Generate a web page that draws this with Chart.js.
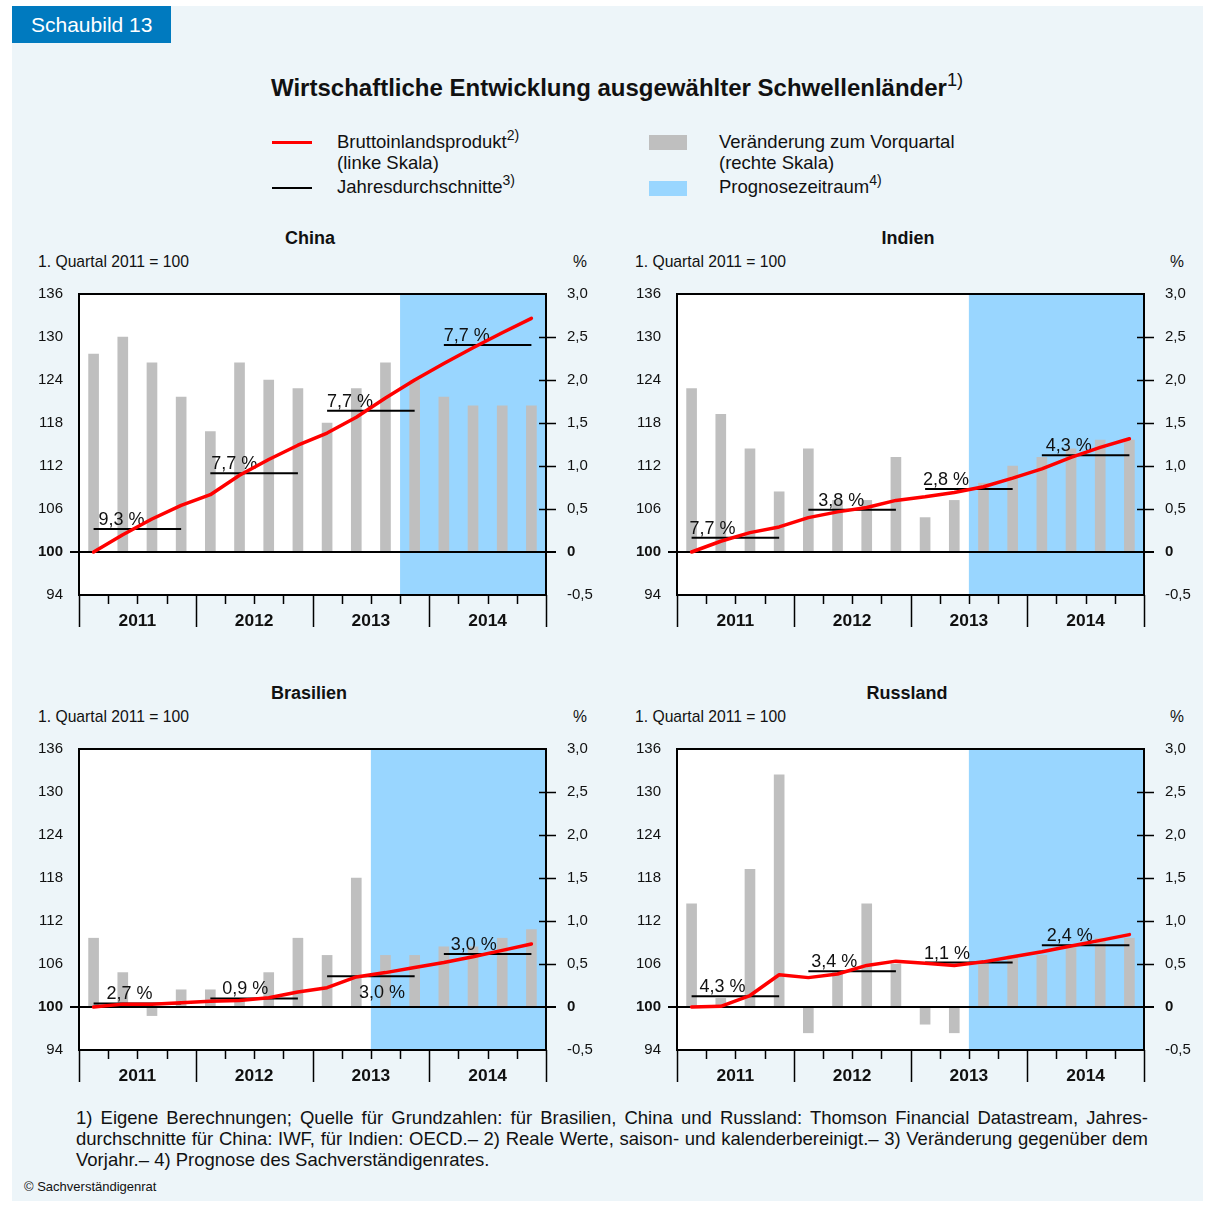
<!DOCTYPE html>
<html lang="de">
<head>
<meta charset="utf-8">
<title>Schaubild 13</title>
<script src="https://cdn.jsdelivr.net/npm/chart.js@4.4.1/dist/chart.umd.min.js"></script>
<style>
  html, body { margin: 0; padding: 0; background: #fff; }
  body { position: relative; width: 1215px; height: 1205px; overflow: hidden;
         font-family: "Liberation Sans", Arial, sans-serif; color: #111; }
  .abs { position: absolute; white-space: nowrap; }
  #bg { left: 12px; top: 6px; width: 1191px; height: 1195px; background: #EDF5F9; }
  #tab { left: 12px; top: 6px; width: 159px; height: 37px; background: #007ABF; color: #fff;
         font-size: 21px; line-height: 37px; padding-left: 19px; box-sizing: border-box; }
  #title { left: 271px; top: 74px; font-size: 24px; font-weight: bold; line-height: 28px; }
  sup { font-size: 76%; vertical-align: baseline; position: relative; top: -0.55em; font-weight: normal; }
  .leg { font-size: 18.5px; line-height: 20px; }
  .sw { position: absolute; }
  .ptitle { font-size: 18px; font-weight: bold; width: 300px; text-align: center; line-height: 20px; }
  .unit { font-size: 15.7px; line-height: 18px; }
  canvas { position: absolute; }
  #notes { left: 76px; top: 1107px; width: 1072px; font-size: 18.5px; line-height: 21px; white-space: normal; }
  #notes div { text-align: justify; text-align-last: justify; }
  #notes div.last { text-align-last: left; }
  #copy { left: 24px; top: 1179px; font-size: 13px; line-height: 16px; }
</style>
</head>
<body>
<div id="bg" class="abs"></div>
<div id="tab" class="abs">Schaubild 13</div>
<div id="title" class="abs">Wirtschaftliche Entwicklung ausgewählter Schwellenländer<sup>1)</sup></div>

<!-- legend -->
<div class="sw" style="left:272px;top:141px;width:40px;height:3px;background:#FF0000"></div>
<div class="abs leg" style="left:337px;top:132px">Bruttoinlandsprodukt<sup>2)</sup></div>
<div class="abs leg" style="left:337px;top:153px">(linke Skala)</div>
<div class="sw" style="left:272px;top:187px;width:40px;height:2px;background:#000"></div>
<div class="abs leg" style="left:337px;top:177px">Jahresdurchschnitte<sup>3)</sup></div>
<div class="sw" style="left:649px;top:135px;width:38px;height:15px;background:#BFBFBF"></div>
<div class="abs leg" style="left:719px;top:132px">Veränderung zum Vorquartal</div>
<div class="abs leg" style="left:719px;top:153px">(rechte Skala)</div>
<div class="sw" style="left:649px;top:181px;width:38px;height:15px;background:#99D6FF"></div>
<div class="abs leg" style="left:719px;top:177px">Prognosezeitraum<sup>4)</sup></div>

<!-- panel headings -->
<div class="abs ptitle" style="left:160px;top:228px">China</div>
<div class="abs unit" style="left:38px;top:253px">1. Quartal 2011 = 100</div>
<div class="abs unit" style="left:573px;top:253px">%</div>
<div class="abs ptitle" style="left:758px;top:228px">Indien</div>
<div class="abs unit" style="left:635px;top:253px">1. Quartal 2011 = 100</div>
<div class="abs unit" style="left:1170px;top:253px">%</div>
<div class="abs ptitle" style="left:159px;top:683px">Brasilien</div>
<div class="abs unit" style="left:38px;top:708px">1. Quartal 2011 = 100</div>
<div class="abs unit" style="left:573px;top:708px">%</div>
<div class="abs ptitle" style="left:757px;top:683px">Russland</div>
<div class="abs unit" style="left:635px;top:708px">1. Quartal 2011 = 100</div>
<div class="abs unit" style="left:1170px;top:708px">%</div>

<canvas id="chart-china" width="600" height="371" style="left:14px;top:264px"></canvas>
<canvas id="chart-indien" width="600" height="371" style="left:612px;top:264px"></canvas>
<canvas id="chart-brasilien" width="600" height="371" style="left:14px;top:719px"></canvas>
<canvas id="chart-russland" width="600" height="371" style="left:612px;top:719px"></canvas>

<div id="notes" class="abs">
  <div>1) Eigene Berechnungen; Quelle für Grundzahlen: für Brasilien, China und Russland: Thomson Financial Datastream, Jahres-</div>
  <div>durchschnitte für China: IWF, für Indien: OECD.– 2) Reale Werte, saison- und kalenderbereinigt.– 3) Veränderung gegenüber dem</div>
  <div class="last">Vorjahr.– 4) Prognose des Sachverständigenrates.</div>
</div>
<div id="copy" class="abs">© Sachverständigenrat</div>

<script>
// Quarters 2011 Q1 .. 2014 Q4
const quarters = [
    "2011 Q1", "2011 Q2", "2011 Q3", "2011 Q4",
    "2012 Q1", "2012 Q2", "2012 Q3", "2012 Q4",
    "2013 Q1", "2013 Q2", "2013 Q3", "2013 Q4",
    "2014 Q1", "2014 Q2", "2014 Q3", "2014 Q4",
];
const years = ["2011", "2012", "2013", "2014"];
const leftTicks = [94, 100, 106, 112, 118, 124, 130, 136];
const rightTicks = [-0.5, 0, 0.5, 1, 1.5, 2, 2.5, 3];
const rightTickLabels = ["-0,5", "0", "0,5", "1,0", "1,5", "2,0", "2,5", "3,0"];

// China
const chinaBip = [100, 102.4, 104.6, 106.5, 108.0, 110.7, 112.9, 114.9, 116.6, 118.8, 121.5, 124.0, 126.3, 128.5, 130.6, 132.6];
const chinaChange = [2.3, 2.5, 2.2, 1.8, 1.4, 2.2, 2.0, 1.9, 1.5, 1.9, 2.2, 2.0, 1.8, 1.7, 1.7, 1.7];
const chinaAvg = [103.2, 111.0, 119.7, 128.9];
const chinaAvgLabels = ["9,3 %", "7,7 %", "7,7 %", "7,7 %"];

// Indien
const indienBip = [100, 101.5, 102.7, 103.5, 104.8, 105.6, 106.2, 107.2, 107.7, 108.3, 109.1, 110.3, 111.6, 113.2, 114.6, 115.8];
const indienChange = [1.9, 1.6, 1.2, 0.7, 1.2, 0.6, 0.6, 1.1, 0.4, 0.6, 0.8, 1.0, 1.1, 1.2, 1.3, 1.3];
const indienAvg = [102.0, 105.9, 108.8, 113.5];
const indienAvgLabels = ["7,7 %", "3,8 %", "2,8 %", "4,3 %"];

// Brasilien
const brasilienBip = [100, 100.4, 100.4, 100.6, 100.8, 100.9, 101.3, 102.1, 102.7, 104.2, 104.8, 105.5, 106.2, 107.0, 107.9, 108.8];
const brasilienChange = [0.8, 0.4, -0.1, 0.2, 0.2, 0.1, 0.4, 0.8, 0.6, 1.5, 0.6, 0.6, 0.7, 0.7, 0.8, 0.9];
const brasilienAvg = [100.5, 101.2, 104.3, 107.4];
const brasilienAvgLabels = ["2,7 %", "0,9 %", "3,0 %", "3,0 %"];

// Russland
const russlandBip = [100, 100.1, 101.6, 104.5, 104.1, 104.6, 105.8, 106.4, 106.1, 105.8, 106.3, 107.0, 107.7, 108.5, 109.3, 110.1];
const russlandChange = [1.2, 0.1, 1.6, 2.7, -0.3, 0.4, 1.2, 0.5, -0.2, -0.3, 0.5, 0.6, 0.6, 0.7, 0.8, 0.8];
const russlandAvg = [101.5, 105.0, 106.2, 108.6];
const russlandAvgLabels = ["4,3 %", "3,4 %", "1,1 %", "2,4 %"];

const COLORS = {
    bip: "#FF0000",
    bar: "#BFBFBF",
    forecast: "#99D6FF",
    axis: "#000000",
    text: "#111111",
};
const FONT = '"Liberation Sans", Arial, sans-serif';

Chart.defaults.font.family = FONT;
Chart.defaults.color = COLORS.text;

// shading, zero line, frame, x axis ticks, average labels
const decorPlugin = {
    id: "decor",
    beforeDatasetsDraw(chart, args, opts) {
        const { ctx, chartArea: a, scales } = chart;
        const half = a.width / quarters.length / 2;
        const fx = scales.x.getPixelForValue(opts.forecastFrom) - half;
        ctx.save();
        ctx.fillStyle = "#fff";
        ctx.fillRect(a.left, a.top, a.width, a.height);
        ctx.fillStyle = COLORS.forecast;
        ctx.fillRect(fx, a.top, a.right - fx, a.height);
        ctx.restore();
    },
    afterDatasetDraw(chart, args, opts) {
        const { ctx, chartArea: a, scales } = chart;
        if (args.index === 0) {
            const y0 = scales.y1.getPixelForValue(0);
            ctx.save();
            ctx.strokeStyle = COLORS.axis;
            ctx.lineWidth = 2;
            ctx.beginPath();
            ctx.moveTo(a.left - 9, y0);
            ctx.lineTo(a.right + 10, y0);
            ctx.stroke();
            ctx.restore();
        }
        if (args.index === 2) {
            ctx.save();
            ctx.font = "18px " + FONT;
            ctx.fillStyle = COLORS.text;
            ctx.textAlign = "left";
            opts.avgLabels.forEach((txt, i) => {
                const px = scales.x.getPixelForValue(i * 4) + opts.labelDx[i];
                const py = scales.y.getPixelForValue(opts.avg[i]);
                if (i === opts.labelBelow) {
                    ctx.textBaseline = "top";
                    ctx.fillText(txt, px, py + 8);
                } else {
                    ctx.textBaseline = "alphabetic";
                    ctx.fillText(txt, px, py - 4);
                }
            });
            ctx.restore();
        }
    },
    afterDraw(chart) {
        const { ctx, chartArea: a, scales } = chart;
        const q = a.width / quarters.length;
        ctx.save();
        ctx.strokeStyle = COLORS.axis;
        // plot frame
        ctx.lineWidth = 2;
        ctx.strokeRect(a.left, a.top, a.width, a.height);
        // right axis ticks across the border
        ctx.lineWidth = 1.5;
        ctx.beginPath();
        rightTicks.forEach((v) => {
            if (v === 0 || v === rightTicks[0] || v === rightTicks[rightTicks.length - 1]) return;
            const y = Math.round(scales.y1.getPixelForValue(v)) + 0.5;
            ctx.moveTo(a.right - 7, y);
            ctx.lineTo(a.right + 10, y);
        });
        // quarter and year ticks below the plot
        for (let i = 0; i <= quarters.length; i++) {
            const x = Math.round(a.left + i * q) + 0.5;
            const len = i % 4 === 0 ? 32 : 9;
            ctx.moveTo(x, a.bottom);
            ctx.lineTo(x, a.bottom + len);
        }
        ctx.stroke();
        // year labels
        ctx.fillStyle = COLORS.text;
        ctx.font = "bold 17.4px " + FONT;
        ctx.textAlign = "center";
        ctx.textBaseline = "middle";
        years.forEach((yr, i) => {
            ctx.fillText(yr, a.left + (i * 4 + 2) * q, a.bottom + 26);
        });
        ctx.restore();
    },
};

function makeChart(canvasId, bip, change, avg, avgLabels, forecastFrom, labelDx, labelBelow) {
    const ctx = document.getElementById(canvasId).getContext("2d");
    return new Chart(ctx, {
        type: "bar",
        data: {
            labels: quarters,
            datasets: [
                {
                    label: "Veränderung zum Vorquartal",
                    data: change,
                    yAxisID: "y1",
                    backgroundColor: COLORS.bar,
                    barThickness: 10,
                    borderWidth: 0,
                    order: 2,
                },
                {
                    type: "line",
                    label: "Bruttoinlandsprodukt",
                    data: bip,
                    yAxisID: "y",
                    borderColor: COLORS.bip,
                    borderWidth: 3.5,
                    borderCapStyle: "round",
                    borderJoinStyle: "round",
                    pointRadius: 0,
                    tension: 0,
                    fill: false,
                    order: 0,
                },
                {
                    type: "line",
                    label: "Jahresdurchschnitte",
                    data: quarters.map((_, i) => avg[Math.floor(i / 4)]),
                    yAxisID: "y",
                    borderColor: COLORS.axis,
                    borderWidth: 2,
                    pointRadius: 0,
                    fill: false,
                    segment: {
                        borderColor: (c) => (c.p0DataIndex % 4 === 3 ? "rgba(0,0,0,0)" : COLORS.axis),
                    },
                    order: 1,
                },
            ],
        },
        options: {
            responsive: false,
            animation: false,
            events: [],
            // the tick padding of the right axis reserves 30px above the plot
            layout: { padding: { top: 0, left: 0, right: 0, bottom: 0 } },
            plugins: {
                legend: { display: false },
                tooltip: { enabled: false },
                decor: { forecastFrom, avg, avgLabels, labelDx, labelBelow },
            },
            scales: {
                x: {
                    type: "category",
                    offset: true,
                    grid: { display: false, drawTicks: false },
                    border: { display: false },
                    ticks: { display: false },
                    afterFit(s) { s.height = 40; },
                },
                y: {
                    position: "left",
                    min: 94,
                    max: 136,
                    grid: { display: false, drawTicks: false },
                    border: { display: false },
                    afterBuildTicks(s) { s.ticks = leftTicks.map((v) => ({ value: v })); },
                    ticks: {
                        padding: 16,
                        color: COLORS.text,
                        font: (c) => ({ size: 15, weight: c.tick && c.tick.value === 100 ? "bold" : "normal" }),
                        callback: (v) => String(v),
                    },
                    afterFit(s) { s.width = 65; },
                },
                y1: {
                    position: "right",
                    min: -0.5,
                    max: 3,
                    grid: { display: false, drawTicks: false },
                    border: { display: false },
                    afterBuildTicks(s) { s.ticks = rightTicks.map((v) => ({ value: v })); },
                    ticks: {
                        padding: 21,
                        color: COLORS.text,
                        font: (c) => ({ size: 15, weight: c.tick && c.tick.value === 0 ? "bold" : "normal" }),
                        callback: (v) => rightTickLabels[rightTicks.indexOf(v)],
                    },
                    afterFit(s) { s.width = 68; },
                },
            },
        },
        plugins: [decorPlugin],
    });
}

makeChart("chart-china", chinaBip, chinaChange, chinaAvg, chinaAvgLabels, 11, [5, 1, 0, 0], -1);
makeChart("chart-indien", indienBip, indienChange, indienAvg, indienAvgLabels, 10, [-2, 10, -2, 4], -1);
makeChart("chart-brasilien", brasilienBip, brasilienChange, brasilienAvg, brasilienAvgLabels, 10, [13, 12, 32, 7], 2);
makeChart("chart-russland", russlandBip, russlandChange, russlandAvg, russlandAvgLabels, 10, [8, 3, -1, 5], -1);
</script>
</body>
</html>
